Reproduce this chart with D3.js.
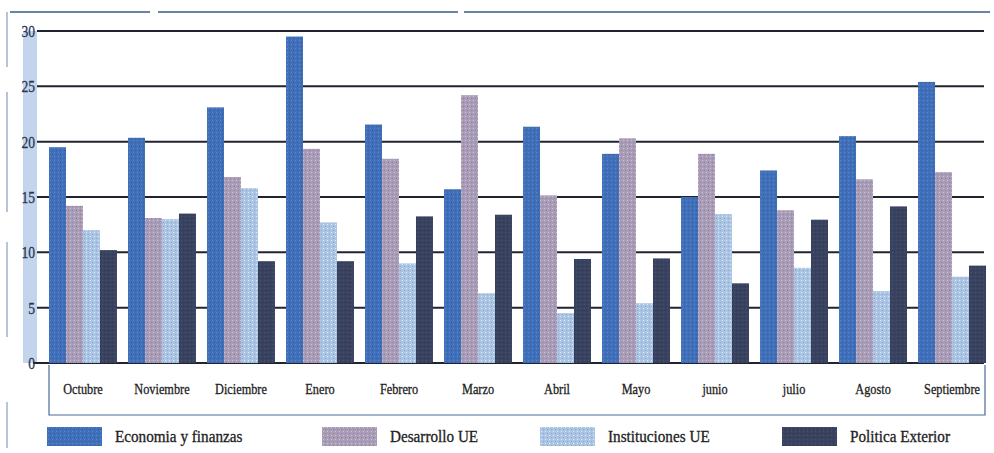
<!DOCTYPE html>
<html><head><meta charset="utf-8">
<script src="https://cdn.jsdelivr.net/npm/d3@7"></script>
<style>body{margin:0;background:#fff}svg{display:block}</style>
</head><body>
<svg id="c" width="994" height="453"></svg>
<script>
const months = ["Octubre","Noviembre","Diciembre","Enero","Febrero","Marzo","Abril","Mayo","junio","julio","Agosto","Septiembre"];
const seriesNames = ["Economia y finanzas","Desarrollo UE","Instituciones UE","Politica Exterior"];
const economia     = [19.5, 20.35, 23.1, 29.5, 21.55, 15.7, 21.35, 18.9, 15.0, 17.4, 20.5, 25.4];
const desarrollo   = [14.2, 13.1, 16.8, 19.35, 18.45, 24.2, 15.15, 20.3, 18.9, 13.8, 16.6, 17.25];
const instituciones= [12.0, 13.0, 15.8, 12.7, 9.0, 6.3, 4.5, 5.4, 13.45, 8.6, 6.5, 7.8];
const politica     = [10.2, 13.5, 9.2, 9.2, 13.25, 13.4, 9.4, 9.45, 7.2, 12.95, 14.15, 8.8];
const yTicks = [0,5,10,15,20,25,30];
const colors = ["#416fb8","#a89cb6","#abc4e3","#394360"];

const series = [economia, desarrollo, instituciones, politica];
const svg = d3.select("#c");

// patterns for stippled look
const defs = svg.append("defs");
colors.forEach((c,i)=>{
  const p = defs.append("pattern").attr("id","p"+i).attr("width",4).attr("height",4).attr("patternUnits","userSpaceOnUse");
  p.append("rect").attr("width",4).attr("height",4).attr("fill",c);
  p.append("rect").attr("x",1).attr("y",0).attr("width",1).attr("height",1).attr("fill",d3.color(c).brighter(0.6));
  p.append("rect").attr("x",3).attr("y",2).attr("width",1).attr("height",1).attr("fill",d3.color(c).darker(0.5));
});

const y = d3.scaleLinear().domain([0,30]).range([363,31]);
const x0 = d3.scaleBand().domain(months).range([49,986]).paddingInner(0.14).paddingOuter(0);
const x1 = d3.scaleBand().domain(d3.range(4)).range([0,x0.bandwidth()]);

// outer frame lines (scan)
svg.append("line").attr("x1",10).attr("x2",990).attr("y1",12).attr("y2",12)
  .attr("stroke","#3b5a8a").attr("stroke-width",1.5).attr("stroke-dasharray","140,8,300,6,600");
svg.append("line").attr("x1",7).attr("x2",7).attr("y1",12).attr("y2",448)
  .attr("stroke","#6a8ab8").attr("stroke-width",1).attr("stroke-dasharray","55,25,120,30,95,65,50");

// blue band behind y labels
svg.append("rect").attr("x",23).attr("y",y(30)).attr("width",14).attr("height",y(0)-y(30))
  .attr("fill","#8fb2dc").attr("opacity",0.55);

// gridlines
svg.append("g").selectAll("line").data(yTicks).join("line")
  .attr("x1",d=>d===0?33:37).attr("x2",984).attr("y1",d=>y(d)).attr("y2",d=>y(d))
  .attr("stroke","#1f2430").attr("stroke-width",2);

// y tick labels
svg.append("g").selectAll("text").data(yTicks).join("text")
  .attr("transform",d=>`translate(35,${y(d)+6}) scale(0.8,1)`)
  .attr("text-anchor","end").attr("font-family","Liberation Serif").attr("font-size",17)
  .attr("fill","#2a3550").attr("stroke","#2a3550").attr("stroke-width",0.3).text(d=>d);

// bars
const g = svg.append("g").selectAll("g").data(months).join("g")
  .attr("transform",d=>`translate(${x0(d)},0)`);
g.selectAll("rect").data((m,mi)=>series.map((s,si)=>({si,v:s[mi]}))).join("rect")
  .attr("x",d=>x1(d.si)).attr("width",x1.bandwidth())
  .attr("y",d=>y(d.v)).attr("height",d=>y(0)-y(d.v))
  .attr("fill",d=>`url(#p${d.si})`);

// category label box
svg.append("path").attr("d","M49,365 V415 H985 V365").attr("fill","none")
  .attr("stroke","#4a6a9a").attr("stroke-width",1.2);

// x labels
svg.append("g").selectAll("text").data(months).join("text")
  .attr("transform",d=>`translate(${x0(d)+x0.bandwidth()/2},394) scale(0.82,1)`)
  .attr("text-anchor","middle").attr("font-family","Liberation Serif").attr("font-size",15)
  .attr("fill","#222").attr("stroke","#222").attr("stroke-width",0.3).text(d=>d);

// legend
const legX = [47,322,540,782];
const leg = svg.append("g").selectAll("g").data(seriesNames).join("g")
  .attr("transform",(d,i)=>`translate(${legX[i]},427)`);
leg.append("rect").attr("width",55).attr("height",19).attr("fill",(d,i)=>`url(#p${i})`);
leg.append("text").attr("transform","translate(68,15) scale(0.95,1)")
  .attr("font-family","Liberation Serif").attr("font-size",16).attr("fill","#222")
  .attr("stroke","#222").attr("stroke-width",0.3).text(d=>d);
</script>
</body></html>
